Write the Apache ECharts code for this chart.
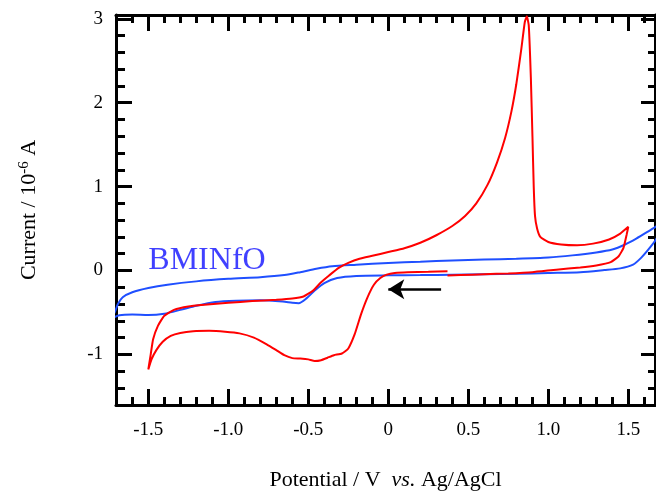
<!DOCTYPE html>
<html>
<head>
<meta charset="utf-8">
<script src="https://cdn.jsdelivr.net/npm/echarts@6/dist/echarts.min.js"></script>
<style>
  html, body { margin: 0; padding: 0; background: #fff; }
  #chart { width: 656px; height: 496px; }
</style>
</head>
<body>
<div id="chart"></div>
<script>
// Cyclic voltammograms: potential (V vs. Ag/AgCl) against current (10^-6 A)

// Sample scan, starting at +0.37 V and sweeping negative first
const sampleScan = [
  [0.37, -0.01], [0.25, -0.015], [0.12, -0.02], [0.04, -0.03], [-0.01, -0.05],
  [-0.05, -0.09], [-0.09, -0.17], [-0.13, -0.32], [-0.17, -0.52], [-0.21, -0.76],
  [-0.25, -0.93], [-0.29, -0.99], [-0.34, -1.01], [-0.38, -1.04], [-0.42, -1.07],
  [-0.46, -1.08], [-0.50, -1.06], [-0.55, -1.05], [-0.60, -1.045], [-0.65, -1.01],
  [-0.70, -0.95], [-0.76, -0.88], [-0.84, -0.80], [-0.93, -0.75], [-1.02, -0.73],
  [-1.12, -0.72], [-1.22, -0.725], [-1.30, -0.745], [-1.36, -0.78], [-1.41, -0.85],
  [-1.45, -0.95], [-1.48, -1.06], [-1.50, -1.18],
  [-1.485, -1.0], [-1.47, -0.82], [-1.44, -0.66], [-1.40, -0.54], [-1.34, -0.47],
  [-1.25, -0.43], [-1.15, -0.41], [-1.00, -0.385], [-0.85, -0.365], [-0.70, -0.35],
  [-0.60, -0.335], [-0.53, -0.31], [-0.47, -0.24], [-0.42, -0.14], [-0.37, -0.06],
  [-0.31, 0.03], [-0.25, 0.09], [-0.18, 0.14], [-0.10, 0.175], [0.00, 0.22],
  [0.10, 0.265], [0.20, 0.33], [0.30, 0.42], [0.40, 0.53], [0.48, 0.65],
  [0.55, 0.80], [0.62, 1.02], [0.68, 1.29], [0.73, 1.58], [0.77, 1.90],
  [0.80, 2.22], [0.83, 2.62], [0.853, 2.96], [0.866, 3.03],
  [0.878, 2.92], [0.891, 2.3], [0.901, 1.6], [0.909, 1.0], [0.917, 0.65],
  [0.93, 0.50], [0.95, 0.40], [1.00, 0.34], [1.08, 0.31], [1.18, 0.30],
  [1.28, 0.32], [1.38, 0.37], [1.45, 0.44], [1.50, 0.52],
  [1.49, 0.43], [1.47, 0.27], [1.44, 0.17], [1.39, 0.10], [1.30, 0.06],
  [1.20, 0.035], [1.05, 0.01], [0.90, -0.02], [0.75, -0.035], [0.60, -0.045],
  [0.45, -0.055], [0.37, -0.06]
];

// Background scan of the neat ionic liquid
const bminfoScan = [
  [-1.74, -0.58], [-1.71, -0.50], [-1.69, -0.40], [-1.66, -0.32], [-1.60, -0.26],
  [-1.50, -0.21], [-1.38, -0.17], [-1.20, -0.13], [-1.00, -0.10], [-0.80, -0.08],
  [-0.65, -0.055], [-0.55, -0.02], [-0.45, 0.02], [-0.35, 0.05], [-0.20, 0.068],
  [0.00, 0.09], [0.20, 0.105], [0.40, 0.12], [0.60, 0.13], [0.80, 0.14],
  [1.00, 0.155], [1.15, 0.18], [1.30, 0.215], [1.40, 0.25], [1.48, 0.31],
  [1.55, 0.38], [1.62, 0.46], [1.67, 0.52], [1.73, 0.60],
  [1.70, 0.46], [1.67, 0.36], [1.63, 0.26], [1.58, 0.15], [1.53, 0.07],
  [1.45, 0.025], [1.35, 0.005], [1.20, -0.02], [1.00, -0.03], [0.80, -0.04],
  [0.60, -0.045], [0.40, -0.05], [0.20, -0.055], [0.00, -0.058], [-0.20, -0.065],
  [-0.32, -0.09], [-0.40, -0.15], [-0.46, -0.24], [-0.51, -0.33], [-0.56, -0.39],
  [-0.60, -0.385], [-0.66, -0.37], [-0.80, -0.355], [-0.95, -0.36], [-1.08, -0.375],
  [-1.20, -0.42], [-1.30, -0.47], [-1.40, -0.515], [-1.50, -0.53], [-1.60, -0.525],
  [-1.68, -0.535], [-1.74, -0.58]
];

// Tick positions
const potentialMajor = [-1.5, -1.0, -0.5, 0, 0.5, 1.0, 1.5];
const potentialMinor = [-1.6, -1.4, -1.3, -1.2, -1.1, -0.9, -0.8, -0.7, -0.6, -0.4, -0.3, -0.2, -0.1,
  0.1, 0.2, 0.3, 0.4, 0.6, 0.7, 0.8, 0.9, 1.1, 1.2, 1.3, 1.4, 1.6];
const currentMajor = [-1, 0, 1, 2, 3];
const currentMinor = [-1.4, -1.2, -0.8, -0.6, -0.4, -0.2, 0.2, 0.4, 0.6, 0.8,
  1.2, 1.4, 1.6, 1.8, 2.2, 2.4, 2.6, 2.8];

// Scan-direction arrow and the electrolyte label
const scanArrow = { from: [0.33, -0.224], to: [0.0, -0.224] };
const electrolyteLabel = { name: 'BMINfO', at: [-1.5, 0.12] };

const X_MIN = -1.702, X_MAX = 1.667;
const Y_MIN = -1.604, Y_MAX = 3.046;

const serif = 'Liberation Serif, Times New Roman, serif';
const ink = '#000';

function xAxisDef(position, ticks, len, withLine, withLabels) {
  return {
    type: 'value', position: position, min: X_MIN, max: X_MAX,
    splitLine: { show: false },
    axisLine: { show: withLine, onZero: false, lineStyle: { color: ink, width: 3 } },
    axisTick: { show: true, inside: true, length: len, customValues: ticks,
      lineStyle: { color: ink, width: 3 } },
    axisLabel: withLabels ? {
      show: true, customValues: potentialMajor, margin: 16,
      fontFamily: serif, fontSize: 19, color: ink,
      formatter: v => (v === 0 ? '0' : v.toFixed(1))
    } : { show: false }
  };
}

function yAxisDef(position, ticks, len, withLine, withLabels) {
  return {
    type: 'value', position: position, min: Y_MIN, max: Y_MAX,
    splitLine: { show: false },
    axisLine: { show: withLine, onZero: false, lineStyle: { color: ink, width: 3 } },
    axisTick: { show: true, inside: true, length: len, customValues: ticks,
      lineStyle: { color: ink, width: 3 } },
    axisLabel: withLabels ? {
      show: true, customValues: currentMajor, margin: 13,
      fontFamily: serif, fontSize: 19, color: ink,
      formatter: v => String(v)
    } : { show: false }
  };
}

const xAxes = [
  xAxisDef('bottom', potentialMajor, 16, true, true),
  xAxisDef('bottom', potentialMinor, 8, false, false),
  xAxisDef('top', potentialMajor, 16, true, false),
  xAxisDef('top', potentialMinor, 8, false, false)
];
Object.assign(xAxes[0], {
  name: '{a|Potential / V  }{i|vs.}{a| Ag/AgCl}',
  nameLocation: 'middle', nameGap: 64,
  nameTextStyle: { rich: {
    a: { fontFamily: serif, fontSize: 22, color: ink },
    i: { fontFamily: serif, fontSize: 22, fontStyle: 'italic', color: ink }
  } }
});

const yAxes = [
  yAxisDef('left', currentMajor, 16, true, true),
  yAxisDef('left', currentMinor, 9, false, false),
  yAxisDef('right', currentMajor, 14, true, false),
  yAxisDef('right', currentMinor, 7, false, false)
];
Object.assign(yAxes[0], {
  name: '{a|Current / 10}{s|-6}{a| A}',
  nameLocation: 'middle', nameRotate: 90, nameGap: 74,
  nameTextStyle: { rich: {
    a: { fontFamily: serif, fontSize: 22, color: ink, lineHeight: 26 },
    s: { fontFamily: serif, fontSize: 15, color: ink, padding: [0, 0, 10, 0] }
  } }
});

const chart = echarts.init(document.getElementById('chart'), null, { renderer: 'canvas' });
chart.setOption({
  animation: false,
  backgroundColor: '#fff',
  grid: { left: 116, right: 1, top: 15, bottom: 89, containLabel: false },
  xAxis: xAxes,
  yAxis: yAxes,
  series: [
    {
      name: 'BMINfO', type: 'line', data: bminfoScan, xAxisIndex: 0, yAxisIndex: 0,
      showSymbol: false, smooth: 0.25, clip: true,
      lineStyle: { color: '#1f4fff', width: 2 }
    },
    {
      name: 'sample', type: 'line', data: sampleScan, xAxisIndex: 0, yAxisIndex: 0,
      showSymbol: false, smooth: 0.15, clip: true,
      lineStyle: { color: '#ff0000', width: 2 },
      markLine: {
        silent: true, symbol: ['none', 'arrow'], symbolSize: [15, 16],
        label: { show: false },
        lineStyle: { color: ink, width: 2.5, type: 'solid' },
        data: [[{ coord: scanArrow.from }, { coord: scanArrow.to }]]
      }
    },
    {
      type: 'scatter', xAxisIndex: 0, yAxisIndex: 0, symbolSize: 0,
      data: [electrolyteLabel.at], silent: true,
      label: { show: true, position: 'right', distance: 0, formatter: electrolyteLabel.name,
        fontFamily: serif, fontSize: 32, color: '#1010ff' }
    }
  ]
});
</script>
</body>
</html>
